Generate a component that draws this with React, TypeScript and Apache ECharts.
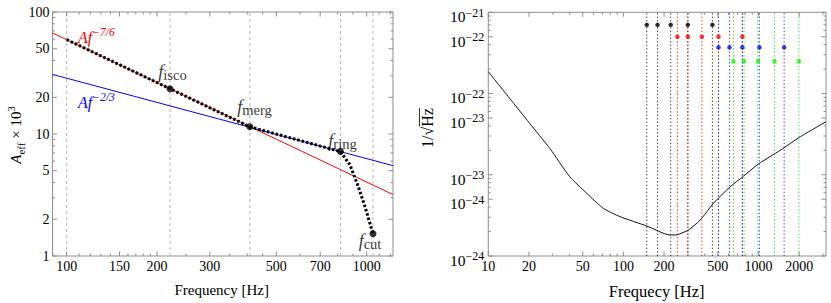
import React, { useEffect, useRef } from 'react';
import * as echarts from 'echarts';

// ---------------- Left panel data ----------------
const leftXMajor = [100, 150, 200, 300, 500, 700, 1000];
const leftXMajorLabels = ['100', '150', '200', '300', '500', '700', '1000'];
const leftXMinor = [90, 110, 120, 130, 140, 160, 170, 180, 190, 250, 350, 400, 450, 600, 800, 900, 1100, 1200];
const leftYMajor = [1, 2, 5, 10, 20, 50, 100];
const leftYMajorLabels = ['1', '2', '5', '10', '20', '50', '100'];
const leftYMinor = [3, 4, 6, 7, 8, 9, 30, 40, 60, 70, 80, 90];
const redLine = [[89.7, 67.3], [1224, 3.19]];
const blueLine = [[89.7, 30.8], [1224, 5.5]];
const waveform = [[100, 59.4], [221, 23.5], [408, 11.45], [818, 7.18], [880, 5.57], [938, 3.7], [987, 2.54], [1050, 1.52]];
const keyNames = ['isco', 'merg', 'ring', 'cut'];
const keyPoints = [[221, 23.5], [408, 11.45], [818, 7.18], [1050, 1.52]];
const gridFreqs = [100, 221, 408, 818, 1050];

// ---------------- Right panel data ----------------
const rightXMajor = [10, 20, 50, 100, 200, 500, 1000, 2000];
const rightXMajorLabels = ['10', '20', '50', '100', '200', '500', '1000', '2000'];
const rightXMinor = [30, 40, 60, 70, 80, 90, 300, 400, 600, 700, 800, 900, 3000];
const rightYMajor = [1e-21, 5e-22, 1e-22, 5e-23, 1e-23, 5e-24, 1e-24];
const rightYMajorExp = ['−21', '−22', '−22', '−23', '−23', '−24', '−24'];
const rightYMinor = [
  2e-24, 3e-24, 4e-24, 6e-24, 7e-24, 8e-24, 9e-24,
  2e-23, 3e-23, 4e-23, 6e-23, 7e-23, 8e-23, 9e-23,
  2e-22, 3e-22, 4e-22, 6e-22, 7e-22, 8e-22, 9e-22,
];
const noiseCurve = [
  [10, 1.86e-22], [15, 8.0e-23], [20, 4.4e-23], [28.6, 2.1e-23], [40, 9.5e-24], [53.6, 5.9e-24],
  [71, 3.86e-24], [95, 3.04e-24], [149, 2.34e-24], [222, 1.81e-24], [251, 1.83e-24],
  [303, 2.09e-24], [370, 2.77e-24], [464, 4.45e-24], [617, 7.1e-24], [774, 9.6e-24],
  [1000, 1.36e-23], [1450, 2.0e-23], [2040, 2.94e-23], [3162, 4.5e-23],
];
const blackFreqs = [149, 179, 224, 300, 456];
const redFreqs = [251, 300, 381, 506, 760];
const blueFreqs = [506, 610, 760, 1016, 1549];
const greenFreqs = [653, 783, 990, 1315, 1991];
const rowLevels = [7e-22, 5e-22, 3.7e-22, 2.5e-22];

// ---------------- styles ----------------
const FAM = '"Liberation Serif", "Times New Roman", "DejaVu Serif", serif';
const font = (size: number, italic = false) => `${italic ? 'italic ' : ''}${size}px ${FAM}`;
const FRAME = '#8f8f8f';
const L_X = [89.7, 1224];
const L_Y = [1, 100];
const R_X = [10, 3162];
const R_Y = [1e-24, 1e-21];

function xTicks(ax: number, ticks: number[], yr: number[], len: number, labels?: string[], size = 14) {
  return {
    type: 'custom', xAxisIndex: ax, yAxisIndex: ax, silent: true, z: 20,
    encode: { x: 0, y: 1 },
    data: ticks.map((t) => [t, yr[0]]),
    renderItem: (params: any, api: any) => {
      const v = api.value(0);
      const b = api.coord([v, yr[0]]);
      const t = api.coord([v, yr[1]]);
      const children: any[] = [
        { type: 'line', shape: { x1: b[0], y1: b[1], x2: b[0], y2: b[1] - len }, style: { stroke: FRAME, lineWidth: 1 } },
        { type: 'line', shape: { x1: t[0], y1: t[1], x2: t[0], y2: t[1] + len }, style: { stroke: FRAME, lineWidth: 1 } },
      ];
      if (labels) {
        children.push({
          type: 'text', x: b[0], y: b[1] + 3,
          style: { text: labels[params.dataIndex], font: font(size), fill: '#000', align: 'center', verticalAlign: 'top' },
        });
      }
      return { type: 'group', children };
    },
  };
}

function yTicks(ax: number, ticks: number[], xr: number[], len: number, labelFn?: (i: number) => any) {
  return {
    type: 'custom', xAxisIndex: ax, yAxisIndex: ax, silent: true, z: 20,
    encode: { x: 0, y: 1 },
    data: ticks.map((t) => [xr[0], t]),
    renderItem: (params: any, api: any) => {
      const v = api.value(1);
      const l = api.coord([xr[0], v]);
      const r = api.coord([xr[1], v]);
      const children: any[] = [
        { type: 'line', shape: { x1: l[0], y1: l[1], x2: l[0] + len, y2: l[1] }, style: { stroke: FRAME, lineWidth: 1 } },
        { type: 'line', shape: { x1: r[0], y1: r[1], x2: r[0] - len, y2: r[1] }, style: { stroke: FRAME, lineWidth: 1 } },
      ];
      if (labelFn) children.push(labelFn(params.dataIndex)(l));
      return { type: 'group', children };
    },
  };
}

function vLines(ax: number, freqs: number[], yr: number[], color: string, dash: number[], opacity = 1) {
  return {
    type: 'custom', xAxisIndex: ax, yAxisIndex: ax, silent: true, z: 2,
    encode: { x: 0, y: 1 },
    data: freqs.map((f) => [f, yr[0]]),
    renderItem: (params: any, api: any) => {
      const f = api.value(0);
      const a = api.coord([f, yr[0]]);
      const b = api.coord([f, yr[1]]);
      return { type: 'line', shape: { x1: a[0], y1: a[1], x2: b[0], y2: b[1] }, style: { stroke: color, lineWidth: 1, lineDash: dash, opacity } };
    },
  };
}

const labelOffsets = [[2.5, -16], [4.7, -19], [2, -10], [-3, 8]];

function buildOption() {
  const hidden = {
    axisLine: { show: false }, axisTick: { show: false }, axisLabel: { show: false }, splitLine: { show: false },
  };
  const groups = [
    { freqs: blackFreqs, color: '#000000', lineColor: '#222222' },
    { freqs: redFreqs, color: '#ff0000', lineColor: '#ff1010' },
    { freqs: blueFreqs, color: '#0000ff', lineColor: '#2020ff' },
    { freqs: greenFreqs, color: '#00ff00', lineColor: '#20e020' },
  ];
  const rightSeries: any[] = [];
  groups.forEach((g, gi) => {
    rightSeries.push(vLines(1, g.freqs, R_Y, g.lineColor, [1.3, 2.2], 0.9));
    rightSeries.push({
      type: 'scatter', xAxisIndex: 1, yAxisIndex: 1, symbol: 'circle', symbolSize: 4.5, silent: true, z: 6,
      itemStyle: { color: g.color },
      data: g.freqs.map((f) => [f, rowLevels[gi]]),
    });
  });

  const sub = (size: number, color: string) => ({ fontSize: size, fontFamily: FAM, color, fill: color });

  return {
    animation: false,
    grid: [
      { left: 52.5, top: 12, width: 340.5, height: 244, show: true, borderColor: FRAME, borderWidth: 1, backgroundColor: 'transparent' },
      { left: 488.3, top: 12.3, width: 337.7, height: 243.7, show: true, borderColor: FRAME, borderWidth: 1, backgroundColor: 'transparent' },
    ],
    xAxis: [
      { type: 'log', gridIndex: 0, min: L_X[0], max: L_X[1], ...hidden },
      { type: 'log', gridIndex: 1, min: R_X[0], max: R_X[1], ...hidden },
    ],
    yAxis: [
      { type: 'log', gridIndex: 0, min: L_Y[0], max: L_Y[1], ...hidden },
      { type: 'log', gridIndex: 1, min: R_Y[0], max: R_Y[1], ...hidden },
    ],
    series: [
      // left panel
      vLines(0, gridFreqs, L_Y, '#b5b5b5', [3, 3]),
      { type: 'line', xAxisIndex: 0, yAxisIndex: 0, data: redLine, symbol: 'none', lineStyle: { color: '#ff0000', width: 1 }, z: 3, silent: true },
      { type: 'line', xAxisIndex: 0, yAxisIndex: 0, data: blueLine, symbol: 'none', lineStyle: { color: '#0000ff', width: 1 }, z: 3, silent: true },
      { type: 'line', xAxisIndex: 0, yAxisIndex: 0, data: waveform, symbol: 'none', lineStyle: { color: '#000', width: 3, type: [2.5, 2] }, z: 4, silent: true },
      {
        type: 'scatter', xAxisIndex: 0, yAxisIndex: 0, symbol: 'circle', symbolSize: 7, z: 5, silent: true,
        itemStyle: { color: '#000' },
        data: keyPoints.map((p, i) => ({
          value: p,
          label: {
            show: true, position: 'inside', offset: labelOffsets[i], color: '#000',
            formatter: `{f|f}{s|${keyNames[i]}}`,
            rich: {
              f: { ...sub(18, '#000'), fontStyle: 'italic', verticalAlign: 'top', lineHeight: 20 },
              s: { ...sub(14.5, '#000'), verticalAlign: 'bottom', lineHeight: 20 },
            },
          },
        })),
      },
      xTicks(0, leftXMajor, L_Y, 4.5, leftXMajorLabels, 14),
      xTicks(0, leftXMinor, L_Y, 2.5),
      yTicks(0, leftYMajor, L_X, 4.5, (i) => (l: number[]) => ({
        type: 'text', x: l[0] - 3, y: l[1],
        style: { text: leftYMajorLabels[i], font: font(14), fill: '#000', align: 'right', verticalAlign: 'middle' },
      })),
      yTicks(0, leftYMinor, L_X, 2.5),
      // right panel
      ...rightSeries,
      { type: 'line', xAxisIndex: 1, yAxisIndex: 1, data: noiseCurve, symbol: 'none', smooth: 0.2, lineStyle: { color: '#111', width: 1 }, z: 5, silent: true },
      xTicks(1, rightXMajor, R_Y, 4.5, rightXMajorLabels, 14),
      xTicks(1, rightXMinor, R_Y, 2.5),
      yTicks(1, rightYMajor, R_X, 4.5, (i) => (l: number[]) => ({
        type: 'text', x: l[0] - 4, y: l[1] + 3.4,
        style: {
          text: `{b|10}{s|${rightYMajorExp[i]}}`, align: 'right', verticalAlign: 'middle',
          rich: {
            b: { ...sub(15.5, '#000'), verticalAlign: 'bottom', lineHeight: 18 },
            s: { ...sub(12, '#000'), verticalAlign: 'top', lineHeight: 18 },
          },
        },
      })),
      yTicks(1, rightYMinor, R_X, 2.5),
    ],
    graphic: [
      { type: 'text', x: 221.7, y: 289.7, style: { text: 'Frequency [Hz]', font: font(15), fill: '#000', align: 'center', verticalAlign: 'middle' } },
      { type: 'text', x: 656.7, y: 291.5, style: { text: 'Frequecy [Hz]', font: font(16.5), fill: '#000', align: 'center', verticalAlign: 'middle' } },
      {
        type: 'text', x: 16, y: 135, rotation: Math.PI / 2,
        style: {
          text: '{i|A}{sub|eff}{n| × 10}{sup|3}', align: 'center', verticalAlign: 'middle',
          rich: {
            i: { ...sub(15, '#000'), fontStyle: 'italic', verticalAlign: 'middle', lineHeight: 20 },
            sub: { ...sub(11, '#000'), verticalAlign: 'bottom', lineHeight: 20 },
            n: { ...sub(15, '#000'), verticalAlign: 'middle', lineHeight: 20 },
            sup: { ...sub(10.5, '#000'), verticalAlign: 'top', lineHeight: 20 },
          },
        },
      },
      {
        type: 'group', x: 427, y: 128, rotation: Math.PI / 2,
        children: [
          { type: 'text', x: 0, y: 0, style: { text: '1/√Hz', font: font(16), fill: '#000', align: 'center', verticalAlign: 'middle' } },
          { type: 'line', shape: { x1: 1.5, y1: -7.5, x2: 20, y2: -7.5 }, style: { stroke: '#000', lineWidth: 0.8 } },
        ],
      },
      {
        type: 'text', x: 78, y: 26,
        style: {
          text: '{b|Af}{s|−7/6}', verticalAlign: 'top', align: 'left',
          rich: {
            b: { ...sub(16, '#ff0000'), fontStyle: 'italic', verticalAlign: 'bottom', lineHeight: 19 },
            s: { ...sub(11.5, '#ff0000'), fontStyle: 'italic', verticalAlign: 'top', lineHeight: 19 },
          },
        },
      },
      {
        type: 'text', x: 78, y: 91,
        style: {
          text: '{b|Af}{s|−2/3}', verticalAlign: 'top', align: 'left',
          rich: {
            b: { ...sub(16, '#0000ff'), fontStyle: 'italic', verticalAlign: 'bottom', lineHeight: 19 },
            s: { ...sub(11.5, '#0000ff'), fontStyle: 'italic', verticalAlign: 'top', lineHeight: 19 },
          },
        },
      },
    ],
  };
}

export default function App() {
  const ref = useRef<HTMLDivElement>(null);
  useEffect(() => {
    if (!ref.current) return;
    const chart = echarts.init(ref.current, undefined, { renderer: 'svg' });
    chart.setOption(buildOption() as any);
    return () => chart.dispose();
  }, []);
  return <div ref={ref} style={{ position: 'fixed', left: 0, top: 0, width: 831, height: 303, background: '#fff' }} />;
}
